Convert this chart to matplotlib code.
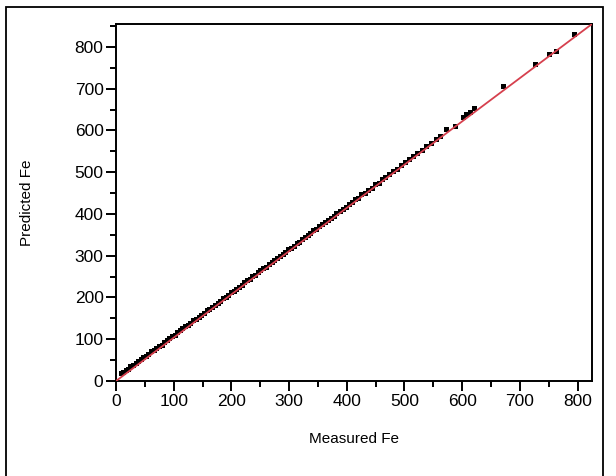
import numpy as np
import matplotlib
matplotlib.use('Agg')
import matplotlib.pyplot as plt
from matplotlib.patches import Rectangle
from matplotlib.ticker import MultipleLocator

plt.rcParams['font.family'] = ['Liberation Sans', 'DejaVu Sans']

# measured vs predicted Fe
measured = [8, 12, 17, 21, 25, 30, 34, 38, 43, 47, 52, 56, 60, 65, 70, 74, 79, 83, 88, 92,
            97, 102, 106, 111, 115, 120, 125, 129, 134, 138, 143, 148, 152, 157, 162, 166,
            171, 176, 180, 185, 190, 194, 199, 204, 208, 213, 218, 222, 227, 232, 236, 241,
            246, 250, 255, 260, 265, 270, 274, 279, 284, 289, 293, 298, 303, 308, 313, 318,
            322, 327, 332, 337, 342, 347, 352, 357, 362, 367, 372, 377, 382, 388, 393, 398,
            403, 409, 414, 420, 425, 431, 437, 443, 449, 455, 461, 467, 474, 480, 487, 494,
            501, 508, 515, 522, 530, 538, 546, 554, 562, 572, 588, 602, 606, 613, 621,
            671, 726, 750, 763, 794]
predicted = [19, 21, 26, 29, 35, 38, 42, 48, 52, 57, 61, 65, 71, 74, 79, 84, 87, 93, 97, 102,
             108, 111, 117, 121, 126, 131, 134, 140, 145, 149, 153, 158, 163, 169, 173, 177,
             182, 187, 191, 198, 201, 205, 212, 216, 221, 226, 230, 236, 241, 245, 251, 254,
             260, 265, 270, 273, 281, 284, 290, 295, 299, 305, 309, 315, 318, 323, 330, 334,
             341, 344, 349, 354, 361, 364, 371, 375, 380, 386, 391, 395, 402, 407, 413, 417,
             424, 428, 435, 439, 447, 451, 457, 463, 471, 475, 483, 488, 496, 502, 508, 517,
             524, 531, 539, 546, 553, 562, 571, 579, 587, 604, 611, 632, 639, 645, 655,
             706, 759, 783, 791, 830]

x_max = 825
y_max = 855
fit_x = [0, x_max]
fit_y = [0, y_max]

fig = plt.figure(figsize=(6.16, 4.76), dpi=100)
ax = fig.add_axes([116/616, 1-381/476, (592-116)/616, (381-24)/476])

ax.plot(measured, predicted, 's', color='black', ms=3.6, mew=0, zorder=2)
ax.plot(fit_x, fit_y, color='#d6404e', lw=1.3, zorder=3)

ax.set_xlim(0, x_max)
ax.set_ylim(0, y_max)
ax.xaxis.set_major_locator(MultipleLocator(100))
ax.xaxis.set_minor_locator(MultipleLocator(50))
ax.yaxis.set_major_locator(MultipleLocator(100))
ax.yaxis.set_minor_locator(MultipleLocator(50))
ax.tick_params(which='major', direction='out', length=7, width=1.4, labelsize=12.5, pad=2)
ax.tick_params(which='minor', direction='out', length=4, width=1.4)
for s in ax.spines.values():
    s.set_linewidth(1.4)

ax.set_xlabel('Measured Fe', fontsize=11, labelpad=17)
ax.set_ylabel('Predicted Fe', fontsize=11, labelpad=29)

# frame round the whole figure
fig.add_artist(Rectangle((6/616, -0.02), (603-6)/616, 1.02-7/476,
                         transform=fig.transFigure, fill=False, lw=1.3, ec='black'))

fig.savefig('out.png', dpi=100)
